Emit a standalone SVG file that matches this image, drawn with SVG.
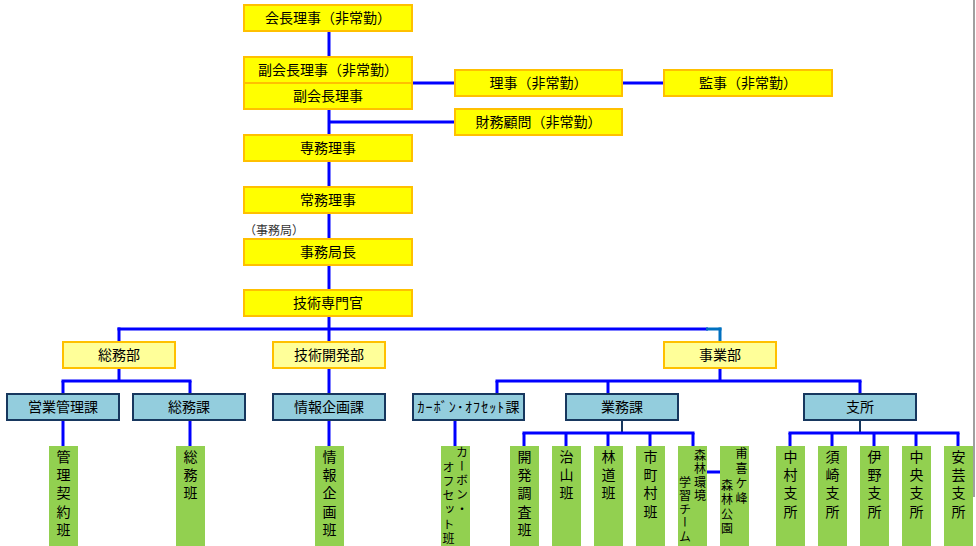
<svg xmlns="http://www.w3.org/2000/svg" width="976" height="546" viewBox="0 0 976 546">
<style>
text{font-family:"Noto Sans CJK JP","Noto Sans CJK SC",sans-serif;fill:#000;}
.t{font-size:14px;text-anchor:middle;}
.y{fill:#FFFF00;stroke:#FFC000;stroke-width:2;}
.d{fill:#FFFF99;stroke:#FFC000;stroke-width:2;}
.b{fill:#93CDDD;stroke:#17375E;stroke-width:2;}
.g{fill:#92D050;}
.v{font-size:14px;writing-mode:vertical-rl;letter-spacing:4.3px;}
.vs{font-size:12px;writing-mode:vertical-rl;letter-spacing:2.3px;}
.c line{stroke:#0000FF;stroke-width:3;}
.c line.k{stroke:#17375E;stroke-width:2;}
.c line.tl{stroke:#0070C0;}
</style>
<line x1="974" y1="0" x2="974" y2="497" stroke="#A0A0A0" stroke-width="2"/>
<g class="c" id="connectors">
<line x1="329" y1="31" x2="329" y2="57"/>
<line x1="329" y1="109" x2="329" y2="135"/>
<line x1="329" y1="161" x2="329" y2="187"/>
<line x1="329" y1="213" x2="329" y2="239"/>
<line x1="329" y1="265" x2="329" y2="290"/>
<line x1="329" y1="316" x2="329" y2="342"/>
<line x1="412" y1="83" x2="455" y2="83"/>
<line x1="622" y1="83" x2="664" y2="83"/>
<line x1="329" y1="122" x2="455" y2="122"/>
<line x1="117.5" y1="329" x2="708" y2="329"/>
<line class="tl" x1="706" y1="329" x2="721.5" y2="329"/>
<line class="tl" x1="720" y1="327.5" x2="720" y2="342"/>
<line x1="119" y1="327.5" x2="119" y2="342"/>
<line x1="119" y1="368" x2="119" y2="381"/>
<line x1="61.5" y1="381" x2="191.5" y2="381"/>
<line x1="63" y1="381" x2="63" y2="394"/>
<line x1="190" y1="381" x2="190" y2="394"/>
<line x1="63" y1="420" x2="63" y2="446"/>
<line x1="190" y1="420" x2="190" y2="446"/>
<line x1="329" y1="368" x2="329" y2="394"/>
<line x1="329" y1="420" x2="329" y2="446"/>
<line x1="720" y1="368" x2="720" y2="381"/>
<line x1="495.5" y1="381" x2="861.5" y2="381"/>
<line x1="497" y1="381" x2="497" y2="394"/>
<line x1="608" y1="381" x2="608" y2="394"/>
<line x1="860" y1="381" x2="860" y2="394"/>
<line x1="455" y1="420" x2="455" y2="446"/>
<line class="k" x1="622" y1="420" x2="622" y2="433"/>
<line x1="522.5" y1="433" x2="694.5" y2="433"/>
<line x1="524" y1="433" x2="524" y2="446"/>
<line x1="566" y1="433" x2="566" y2="446"/>
<line x1="608" y1="433" x2="608" y2="446"/>
<line x1="650" y1="433" x2="650" y2="446"/>
<line x1="693" y1="433" x2="693" y2="446"/>
<line x1="707" y1="472" x2="720" y2="472"/>
<line class="k" x1="860" y1="420" x2="860" y2="433"/>
<line x1="788.5" y1="433" x2="959.5" y2="433"/>
<line x1="790" y1="433" x2="790" y2="446"/>
<line x1="832" y1="433" x2="832" y2="446"/>
<line x1="874" y1="433" x2="874" y2="446"/>
<line x1="916" y1="433" x2="916" y2="446"/>
<line x1="958" y1="433" x2="958" y2="446"/>
</g>
<g id="n-kaicho"><rect class="y" x="244" y="5" width="168" height="26"/><text class="t" x="328" y="23">会長理事（非常勤）</text></g>
<g id="n-fuku1"><rect class="y" x="244" y="57" width="168" height="26"/><text class="t" x="328" y="75">副会長理事（非常勤）</text></g>
<g id="n-fuku2"><rect class="y" x="244" y="83" width="168" height="26"/><text class="t" x="328" y="101">副会長理事</text></g>
<g id="n-riji"><rect class="y" x="455" y="70" width="167" height="26"/><text class="t" x="538.5" y="88">理事（非常勤）</text></g>
<g id="n-kanji"><rect class="y" x="664" y="70" width="168" height="26"/><text class="t" x="748" y="88">監事（非常勤）</text></g>
<g id="n-zaimu"><rect class="y" x="455" y="109" width="167" height="26"/><text class="t" x="538.5" y="127">財務顧問（非常勤）</text></g>
<g id="n-senmu"><rect class="y" x="244" y="135" width="168" height="26"/><text class="t" x="328" y="153">専務理事</text></g>
<g id="n-jomu"><rect class="y" x="244" y="187" width="168" height="26"/><text class="t" x="328" y="205">常務理事</text></g>
<text x="244" y="235" style="font-size:12px;fill:#333">（事務局）</text>
<g id="n-kyokucho"><rect class="y" x="244" y="239" width="168" height="26"/><text class="t" x="328" y="257">事務局長</text></g>
<g id="n-gijutsu"><rect class="y" x="244" y="290" width="168" height="26"/><text class="t" x="328" y="308">技術専門官</text></g>
<g id="n-somubu"><rect class="d" x="63" y="342" width="112" height="26"/><text class="t" x="119" y="360">総務部</text></g>
<g id="n-kaihatsubu"><rect class="d" x="273" y="342" width="112" height="26"/><text class="t" x="329" y="360">技術開発部</text></g>
<g id="n-jigyobu"><rect class="d" x="664" y="342" width="112" height="26"/><text class="t" x="720" y="360">事業部</text></g>
<g id="n-eigyo"><rect class="b" x="7" y="394" width="112" height="26"/><text class="t" x="63" y="412">営業管理課</text></g>
<g id="n-somuka"><rect class="b" x="133" y="394" width="112" height="26"/><text class="t" x="189" y="412">総務課</text></g>
<g id="n-joho"><rect class="b" x="273" y="394" width="112" height="26"/><text class="t" x="329" y="412">情報企画課</text></g>
<g id="n-carbon"><rect class="b" x="413" y="394" width="111" height="26"/><text class="t" x="469" y="412" style="letter-spacing:1.1px">ｶｰﾎﾞﾝ･ｵﾌｾｯﾄ課</text></g>
<g id="n-gyomu"><rect class="b" x="566" y="394" width="112" height="26"/><text class="t" x="622" y="412">業務課</text></g>
<g id="n-shisho"><rect class="b" x="804" y="394" width="112" height="26"/><text class="t" x="860" y="412">支所</text></g>
<g id="n-kanri"><rect class="g" x="49" y="446" width="29" height="100"/><text class="v" x="63.5" y="449.5">管理契約班</text></g>
<g id="n-somuhan"><rect class="g" x="176" y="446" width="29" height="100"/><text class="v" x="190.5" y="449.5">総務班</text></g>
<g id="n-johohan"><rect class="g" x="315" y="446" width="29" height="100"/><text class="v" x="329.5" y="449.5">情報企画班</text></g>
<g id="n-carbonhan"><rect class="g" x="441" y="446" width="29" height="100"/><text class="vs" x="462" y="446">カーボン・</text><text class="vs" x="448.5" y="461">オフセット班</text></g>
<g id="n-kaihatsu"><rect class="g" x="510" y="446" width="29" height="100"/><text class="v" x="524.5" y="449.5">開発調査班</text></g>
<g id="n-chisan"><rect class="g" x="552" y="446" width="29" height="100"/><text class="v" x="566.5" y="449.5">治山班</text></g>
<g id="n-rindo"><rect class="g" x="594" y="446" width="29" height="100"/><text class="v" x="608.5" y="449.5">林道班</text></g>
<g id="n-shichoson"><rect class="g" x="636" y="446" width="29" height="100"/><text class="v" x="650.5" y="449.5">市町村班</text></g>
<g id="n-shinrin"><rect class="g" x="678" y="446" width="29" height="100"/><text class="vs" x="700" y="449" style="letter-spacing:1.5px">森林環境</text><text class="vs" x="685" y="476" style="letter-spacing:1.5px">学習チーム</text></g>
<g id="n-hokigamine"><rect class="g" x="720" y="446" width="29" height="100"/><text class="vs" x="741.5" y="447" style="letter-spacing:3px">甫喜ケ峰</text><text class="vs" x="727" y="479" style="letter-spacing:2.5px">森林公園</text></g>
<g id="n-nakamura"><rect class="g" x="776" y="446" width="29" height="100"/><text class="v" x="790.5" y="449.5">中村支所</text></g>
<g id="n-susaki"><rect class="g" x="818" y="446" width="29" height="100"/><text class="v" x="832.5" y="449.5">須崎支所</text></g>
<g id="n-ino"><rect class="g" x="860" y="446" width="29" height="100"/><text class="v" x="874.5" y="449.5">伊野支所</text></g>
<g id="n-chuo"><rect class="g" x="902" y="446" width="29" height="100"/><text class="v" x="916.5" y="449.5">中央支所</text></g>
<g id="n-aki"><rect class="g" x="944" y="446" width="29" height="100"/><text class="v" x="958.5" y="449.5">安芸支所</text></g>
</svg>
